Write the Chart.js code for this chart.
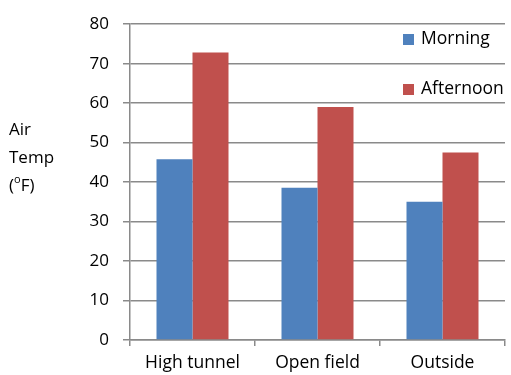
<!DOCTYPE html>
<html>
<head>
<meta charset="utf-8">
<script src="https://cdn.jsdelivr.net/npm/chart.js@4/dist/chart.umd.min.js"></script>
<style>
  html, body { margin: 0; padding: 0; background: #ffffff; }
  #wrap { width: 511px; height: 375px; position: relative; }
</style>
</head>
<body>
<div id="wrap"><canvas id="c" width="511" height="375"></canvas></div>
<script>
const categories = ['High tunnel', 'Open field', 'Outside'];
const morning = [45.8, 38.6, 35.0];
const afternoon = [72.8, 59.0, 47.5];
const seriesNames = ['Morning', 'Afternoon'];
const yTicks = [0, 10, 20, 30, 40, 50, 60, 70, 80];

const FONT = '"Open Sans", "Liberation Sans", sans-serif';
const GRID = '#8a8a8a';

// Axis caption drawn horizontally, stacked over three lines
const axisCaption = {
  id: 'axisCaption',
  afterDraw(chart) {
    const ctx = chart.ctx;
    ctx.save();
    ctx.fillStyle = '#000';
    ctx.textBaseline = 'middle';
    ctx.textAlign = 'left';
    ctx.font = '17px ' + FONT;
    ctx.fillText('Air', 9, 130);
    ctx.fillText('Temp', 9, 158);
    const x0 = 9, y = 186;
    ctx.fillText('(', x0, y);
    let x = x0 + ctx.measureText('(').width;
    ctx.font = '11px ' + FONT;
    ctx.fillText('o', x, y - 6);
    x += ctx.measureText('o').width;
    ctx.font = '17px ' + FONT;
    ctx.fillText('F)', x, y);
    ctx.restore();
  }
};

// Legend placed inside the plot, top right
const insideLegend = {
  id: 'insideLegend',
  afterDraw(chart) {
    const ctx = chart.ctx;
    ctx.save();
    ctx.font = '17.5px ' + FONT;
    ctx.textBaseline = 'middle';
    ctx.textAlign = 'left';
    chart.data.datasets.forEach((ds, i) => {
      const y = 39 + i * 50;
      ctx.fillStyle = ds.backgroundColor;
      ctx.fillRect(403, y - 5, 11, 11);
      ctx.fillStyle = '#000';
      ctx.fillText(ds.label, 421, y);
    });
    ctx.restore();
  }
};

new Chart(document.getElementById('c'), {
  type: 'bar',
  data: {
    labels: categories,
    datasets: [
      { label: seriesNames[0], data: morning, backgroundColor: '#4F81BD' },
      { label: seriesNames[1], data: afternoon, backgroundColor: '#C0504D' }
    ]
  },
  options: {
    responsive: false,
    animation: false,
    layout: { padding: { top: 24, right: 6, left: 0, bottom: 0 } },
    plugins: {
      legend: { display: false },
      tooltip: { enabled: false }
    },
    datasets: {
      bar: { categoryPercentage: 0.576, barPercentage: 1.0 }
    },
    scales: {
      x: {
        offset: true,
        grid: {
          offset: true,
          drawOnChartArea: false,
          drawTicks: true,
          tickLength: 6,
          color: GRID,
          lineWidth: 1.5
        },
        border: { display: true, color: GRID, width: 1.5 },
        ticks: {
          color: '#000',
          font: { family: FONT, size: 17.5 },
          padding: 7
        },
        afterFit(scale) { scale.height = 35; }
      },
      y: {
        min: 0,
        max: 80,
        afterBuildTicks(scale) { scale.ticks = yTicks.map(v => ({ value: v })); },
        grid: {
          color: GRID,
          lineWidth: 1.5,
          drawTicks: true,
          tickLength: 7
        },
        border: { display: true, color: GRID, width: 1.5 },
        ticks: {
          color: '#000',
          font: { family: FONT, size: 17 },
          padding: 14
        },
        afterFit(scale) { scale.width = 130; }
      }
    }
  },
  plugins: [axisCaption, insideLegend]
});
</script>
</body>
</html>
